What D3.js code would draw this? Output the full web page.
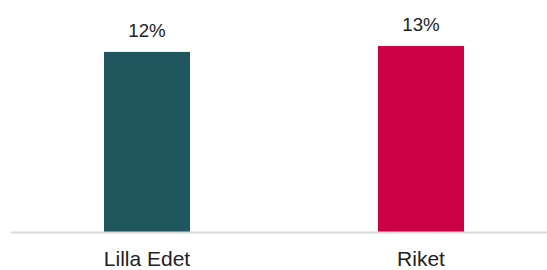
<!DOCTYPE html>
<html>
<head>
<meta charset="utf-8">
<script src="https://cdn.jsdelivr.net/npm/d3@7"></script>
<style>
  body { margin: 0; background: #fff; }
  svg { display: block; font-family: Arial, "Liberation Sans", sans-serif; }
</style>
</head>
<body>
<div id="vis"></div>
<script>
// Chart data
var categories = ["Lilla Edet", "Riket"];
var values = [0.122, 0.126];
var barColors = ["#20575f", "#cc0044"];

var width = 547;
var height = 270;
var baseY = 232;

var svg = d3.select("#vis")
    .append("svg")
    .attr("width", width)
    .attr("height", height);

// Scales
var x = d3.scaleBand()
    .domain(categories)
    .range([10, 558])
    .paddingInner(0.686)
    .paddingOuter(0.343);

var y = d3.scaleLinear()
    .domain([0, 0.15])
    .range([baseY, baseY - 0.15 * 1476]);

// Bars
svg.append("g")
    .selectAll("rect")
    .data(values)
    .enter().append("rect")
    .attr("x", (d, i) => x(categories[i]))
    .attr("y", d => y(d))
    .attr("width", x.bandwidth())
    .attr("height", d => baseY - y(d))
    .attr("fill", (d, i) => barColors[i]);

// Value labels
svg.append("g")
    .selectAll("text")
    .data(values)
    .enter().append("text")
    .attr("x", (d, i) => x(categories[i]) + x.bandwidth() / 2)
    .attr("y", d => y(d) - 15)
    .attr("text-anchor", "middle")
    .attr("font-size", "18.7px")
    .attr("fill", "#222")
    .text(d => d3.format(".0%")(d));

// Category axis
var axis = svg.append("g")
    .attr("transform", "translate(0," + baseY + ")")
    .call(d3.axisBottom(x).tickSize(0));

axis.select(".domain")
    .attr("stroke", "#d9d9d9")
    .attr("stroke-width", 2);

axis.selectAll("text")
    .attr("dy", null)
    .attr("y", 34)
    .attr("font-size", "21px")
    .attr("font-family", "Arial, 'Liberation Sans', sans-serif")
    .attr("fill", "#222");
</script>
</body>
</html>
